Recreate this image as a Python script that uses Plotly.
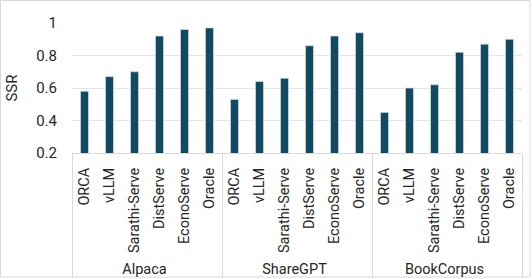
import plotly.graph_objects as go

datasets = ["Alpaca", "ShareGPT", "BookCorpus"]
systems = ["ORCA", "vLLM", "Sarathi-Serve", "DistServe", "EconoServe", "Oracle"]
ssr_alpaca = [0.58, 0.67, 0.70, 0.92, 0.96, 0.97]
ssr_sharegpt = [0.53, 0.64, 0.66, 0.86, 0.92, 0.94]
ssr_bookcorpus = [0.45, 0.60, 0.62, 0.82, 0.87, 0.90]
y_ticks = [0.2, 0.4, 0.6, 0.8, 1]
y_tick_text = ["0.2", "0.4", "0.6", "0.8", "1"]

outer = []
inner = []
vals = []
for d, v in zip(datasets, [ssr_alpaca, ssr_sharegpt, ssr_bookcorpus]):
    for s, val in zip(systems, v):
        outer.append(d)
        inner.append(s)
        vals.append(val)

FONT = "Roboto"
fig = go.Figure(go.Bar(
    x=[outer, inner], y=vals, width=0.32,
    marker=dict(color="#124A62", line=dict(color="#C9D6E0", width=0.8)),
))

W, H = 532, 279
L, R, T, B = 72, 10, 23, 126
pw, ph = W - L - R, H - T - B

fig.update_layout(
    width=W, height=H,
    margin=dict(l=L, r=R, t=T, b=B, autoexpand=False),
    paper_bgcolor="white", plot_bgcolor="white",
    font=dict(family=FONT, size=14.5, color="#262626"),
    showlegend=False,
    xaxis=dict(
        type="multicategory", tickangle=-90, showline=True, linecolor="#D9D9D9",
        linewidth=1, showgrid=False, ticks="", showdividers=True, automargin=False,
        dividercolor="#D9D9D9", dividerwidth=1, ticklabelstandoff=8,
        tickfont=dict(family=FONT, size=14.5, color="#262626"),
    ),
    yaxis=dict(
        range=[0.2, 1.0], tickvals=y_ticks, ticktext=y_tick_text, automargin=False,
        showgrid=True, gridcolor="#E6E6E6", gridwidth=1, zeroline=False,
        showline=False, ticks="", ticklabelstandoff=14,
        tickfont=dict(family=FONT, size=15, color="#262626"),
        title=dict(text="SSR", font=dict(family=FONT, size=15, color="#262626"), standoff=14),
    ),
    shapes=[dict(
        type="rect", xref="paper", yref="paper", layer="below",
        x0=(0.5 - L) / pw, x1=(530 - L) / pw,
        y0=(H - B - 277) / ph, y1=(H - B - 0.5) / ph,
        line=dict(color="#D9D9D9", width=1),
    )],
)

fig.write_html("out.html", config={"displayModeBar": False},
               post_script="document.body.style.margin='0';")
